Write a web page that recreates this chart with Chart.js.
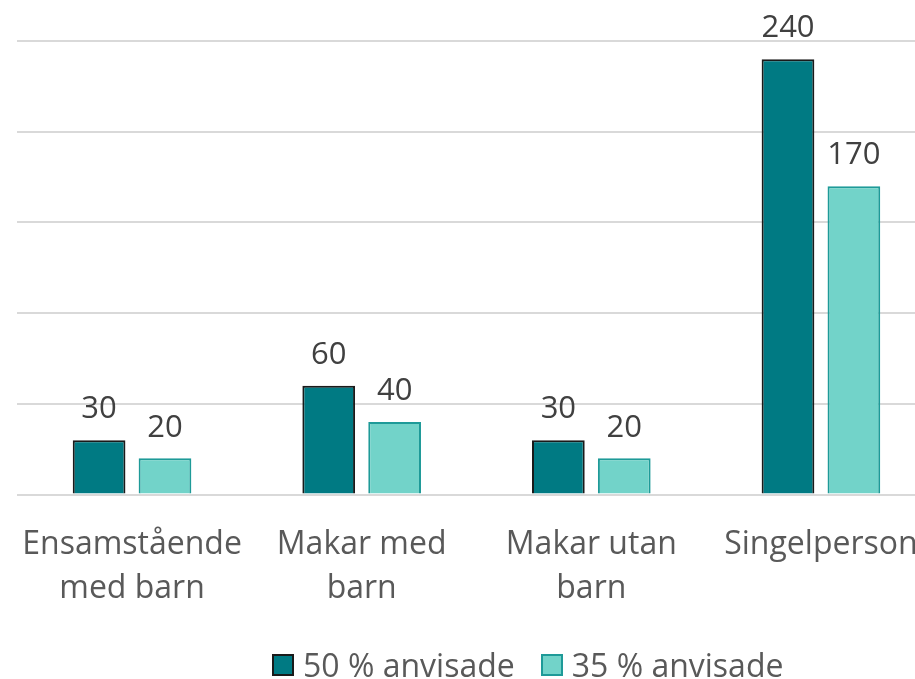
<!DOCTYPE html>
<html>
<head>
<meta charset="utf-8">
<script src="https://cdn.jsdelivr.net/npm/chart.js@4"></script>
<style>
    html, body { margin: 0; padding: 0; background: #fff; overflow: hidden; }
    #wrap { position: relative; width: 938px; height: 679px; }
    #legend {
        position: absolute; top: 643px; left: 272px;
        display: flex; align-items: center;
        font-family: "Open Sans", sans-serif; font-size: 32px; color: #595959;
        white-space: nowrap; line-height: 44px;
    }
    .item { display: flex; align-items: center; margin-right: 26px; }
    .box { width: 18px; height: 18px; margin-right: 9px; border: 2px solid; }
</style>
</head>
<body>
<div id="wrap">
    <canvas id="chart" width="938" height="679"></canvas>
    <div id="legend"></div>
</div>
<script>
const categories = [['Ensamstående', 'med barn'], ['Makar med', 'barn'], ['Makar utan', 'barn'], ['Singelperson']];
const seriesNames = ['50 % anvisade', '35 % anvisade'];
const values50 = [30, 60, 30, 240];
const values35 = [20, 40, 20, 170];
const yTicks = [0, 50, 100, 150, 200, 250];

const fillColors = ['#007A83', '#72D3C9'];
const borderColors = ['#1a1a1a', '#1E9A98'];
const FONT = '"Open Sans", sans-serif';

// värden ovanför staplarna
const barLabels = {
    id: 'barLabels',
    afterDatasetsDraw(chart) {
        const ctx = chart.ctx;
        ctx.save();
        ctx.font = `31px ${FONT}`;
        ctx.fillStyle = '#404040';
        ctx.textAlign = 'center';
        ctx.textBaseline = 'bottom';
        chart.data.datasets.forEach((ds, i) => {
            chart.getDatasetMeta(i).data.forEach((bar, j) => {
                ctx.fillText(ds.data[j], bar.x, bar.y - 15);
            });
        });
        ctx.restore();
    }
};

const chart = new Chart(document.getElementById('chart'), {
    type: 'bar',
    data: {
        labels: categories,
        datasets: [
            { label: seriesNames[0], data: values50, backgroundColor: fillColors[0], borderColor: borderColors[0], borderWidth: 2 },
            { label: seriesNames[1], data: values35, backgroundColor: fillColors[1], borderColor: borderColors[1], borderWidth: 2 }
        ]
    },
    options: {
        responsive: false,
        animation: false,
        categoryPercentage: 0.574,
        barPercentage: 0.8,
        layout: { padding: { left: 12, right: 0, top: 41, bottom: 48 } },
        plugins: {
            legend: { display: false },
            tooltip: { enabled: false }
        },
        scales: {
            x: {
                grid: { display: false },
                border: { display: false },
                ticks: {
                    color: '#595959',
                    font: { family: FONT, size: 32, lineHeight: 1.35 },
                    padding: 21,
                    maxRotation: 0,
                    autoSkip: false
                }
            },
            y: {
                min: 0,
                max: 250,
                afterBuildTicks: (scale) => { scale.ticks = yTicks.map(v => ({ value: v })); },
                ticks: { display: false },
                grid: { color: '#d9d9d9', lineWidth: 2, drawTicks: false },
                border: { display: false }
            }
        }
    },
    plugins: [barLabels]
});

// förklaring
const legendEl = document.getElementById('legend');
seriesNames.forEach((name, i) => {
    const item = document.createElement('div');
    item.className = 'item';
    item.innerHTML = `<span class="box" style="background:${fillColors[i]};border-color:${borderColors[i]}"></span>${name}`;
    legendEl.appendChild(item);
});
</script>
</body>
</html>
